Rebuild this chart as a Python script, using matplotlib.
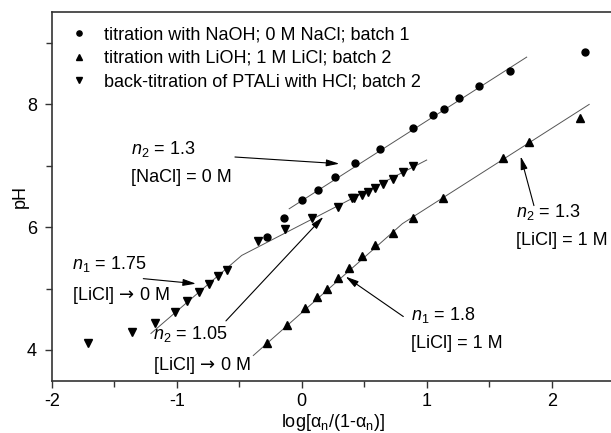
import matplotlib
matplotlib.use('Agg')
import matplotlib.pyplot as plt
import numpy as np

plt.rcParams['font.family'] = ['Liberation Sans', 'DejaVu Sans']
plt.rcParams['font.size'] = 13
plt.rcParams['axes.unicode_minus'] = False
plt.rcParams['mathtext.fontset'] = 'custom'
plt.rcParams['mathtext.rm'] = 'Liberation Sans'
plt.rcParams['mathtext.it'] = 'Liberation Sans:italic'
plt.rcParams['mathtext.sf'] = 'DejaVu Sans'

# titration with NaOH; 0 M NaCl; batch 1
x_naoh = [-0.28, -0.14, 0.0, 0.13, 0.27, 0.43, 0.63, 0.89, 1.05, 1.14, 1.26, 1.42, 1.67, 2.27]
ph_naoh = [5.84, 6.15, 6.44, 6.60, 6.82, 7.05, 7.27, 7.62, 7.82, 7.93, 8.10, 8.30, 8.54, 8.86]

# titration with LiOH; 1 M LiCl; batch 2
x_lioh = [-0.28, -0.12, 0.03, 0.12, 0.20, 0.29, 0.38, 0.48, 0.59, 0.73, 0.89, 1.13, 1.61, 1.82, 2.23]
ph_lioh = [4.12, 4.40, 4.69, 4.86, 5.00, 5.17, 5.33, 5.53, 5.71, 5.91, 6.15, 6.47, 7.12, 7.38, 7.78]

# back-titration of PTALi with HCl; batch 2
x_back = [-1.71, -1.36, -1.17, -1.01, -0.92, -0.82, -0.74, -0.67, -0.60, -0.35, -0.13,
          0.08, 0.29, 0.40, 0.42, 0.48, 0.53, 0.59, 0.65, 0.73, 0.81, 0.89]
ph_back = [4.12, 4.29, 4.44, 4.62, 4.79, 4.94, 5.07, 5.20, 5.31, 5.77, 5.97,
           6.15, 6.33, 6.47, 6.48, 6.53, 6.58, 6.64, 6.71, 6.79, 6.90, 7.00]

# linear fits: slopes n and intercepts
n2_naoh, b_naoh, rng_naoh = 1.3, 6.43, (-0.10, 1.80)
n1_lioh, b1_lioh = 1.8, 4.607
n2_lioh, b2_lioh = 1.3, 5.01
rng_lioh = (-0.387, 2.30)
n1_back, n2_back = 1.75, 1.05
knee_back = (-0.48, 5.54)
rng_back = (-1.206, 1.00)

fig = plt.figure(figsize=(6.11, 4.33), dpi=100)
ax = fig.add_axes([0.0846, 0.1208, 0.9206, 0.8508])

fit_kw = dict(color='#555555', lw=0.7, zorder=1)

# NaOH fit
xs = np.array(rng_naoh)
ax.plot(xs, b_naoh + n2_naoh * xs, **fit_kw)

# LiOH fit, two segments meeting where they cross
xk = (b2_lioh - b1_lioh) / (n1_lioh - n2_lioh)
xs = np.array([rng_lioh[0], xk, rng_lioh[1]])
ys = np.where(xs <= xk, b1_lioh + n1_lioh * xs, b2_lioh + n2_lioh * xs)
ax.plot(xs, ys, **fit_kw)

# back-titration fit, two segments through the knee
xs = np.array([rng_back[0], knee_back[0], rng_back[1]])
ys = np.where(xs <= knee_back[0],
              knee_back[1] + n1_back * (xs - knee_back[0]),
              knee_back[1] + n2_back * (xs - knee_back[0]))
ax.plot(xs, ys, **fit_kw)

ax.plot(x_naoh, ph_naoh, 'o', color='black', ms=5, ls='none',
        label='titration with NaOH; 0 M NaCl; batch 1', zorder=3)
ax.plot(x_lioh, ph_lioh, '^', color='black', ms=5.5, ls='none',
        label='titration with LiOH; 1 M LiCl; batch 2', zorder=3)
ax.plot(x_back, ph_back, 'v', color='black', ms=5.5, ls='none',
        label='back-titration of PTALi with HCl; batch 2', zorder=3)

# annotations: (text, text position, arrow tail, arrow head)
arrow_kw = dict(arrowstyle='-|>,head_length=0.6,head_width=0.16', color='black',
                lw=0.8, shrinkA=0, shrinkB=0)
to_zero = r'[LiCl]$\,\mathsf{\rightarrow}\,$0 M'
notes = [
    ('$n_2$ = %g\n[NaCl] = 0 M' % n2_naoh, (-1.366, 7.058), (-0.534, 7.143), (0.301, 7.034)),
    ('$n_1$ = %g\n' % n1_back + to_zero, (-1.84, 5.138), (-1.267, 5.162), (-0.846, 5.08)),
    ('$n_2$ = %g\n' % n2_back + to_zero, (-1.187, 3.995), (-0.606, 4.474), (0.173, 6.169)),
    ('$n_1$ = %g\n[LiCl] = 1 M' % n1_lioh, (0.874, 4.347), (0.813, 4.545), (0.352, 5.195)),
    ('$n_2$ = %g\n[LiCl] = 1 M' % n2_lioh, (1.715, 6.023), (1.858, 6.352), (1.752, 7.153)),
]
for txt, pos, tail, head in notes:
    ax.text(pos[0], pos[1], txt, ha='left', va='center', linespacing=1.75)
    ax.annotate('', xy=head, xytext=tail, arrowprops=arrow_kw)

ax.set_xlim(-2, 2.5)
ax.set_ylim(3.5, 9.5)
ax.set_xticks([-2, -1, 0, 1, 2])
ax.set_xticks([-1.5, -0.5, 0.5, 1.5], minor=True)
ax.set_yticks([4, 6, 8])
ax.set_yticks([5, 7, 9], minor=True)
ax.tick_params(which='both', direction='out', color='#333333', width=1.0)
ax.tick_params(which='major', length=5)
ax.tick_params(which='minor', length=4)
ax.tick_params(axis='x', pad=4)
ax.tick_params(axis='y', pad=5.5)

for side in ['left', 'top', 'bottom']:
    ax.spines[side].set_color('#333333')
    ax.spines[side].set_linewidth(1.2)
ax.spines['right'].set_visible(False)

ax.set_xlabel(r'log[α$_\mathregular{n}$/(1-α$_\mathregular{n}$)]', labelpad=1)
ax.set_ylabel('pH', labelpad=-1)

ax.legend(loc='upper left', bbox_to_anchor=(0.0326, 0.961), frameon=False,
          borderaxespad=0, borderpad=0, handlelength=1.0, handletextpad=0.89,
          labelspacing=0.35, markerscale=0.75)

fig.savefig('out.png', dpi=100)
